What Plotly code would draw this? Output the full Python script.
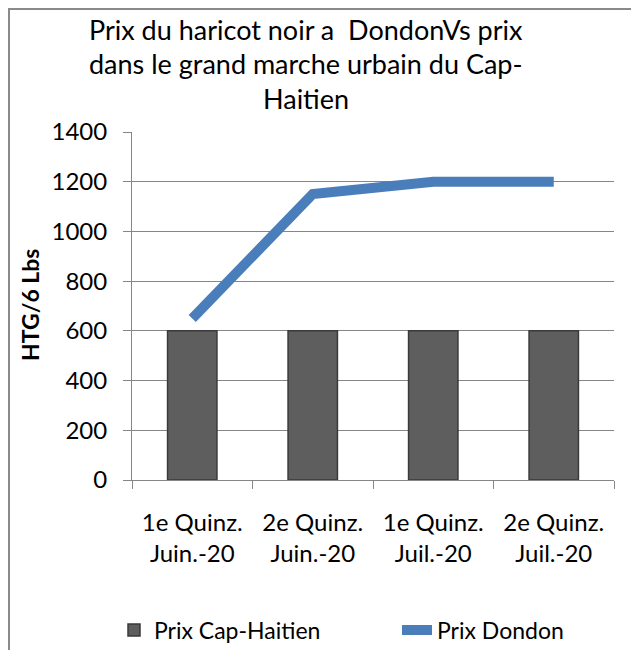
import plotly.graph_objects as go

categories = ["1e Quinz.<br>Juin.-20", "2e Quinz.<br>Juin.-20", "1e Quinz.<br>Juil.-20", "2e Quinz.<br>Juil.-20"]
prix_cap_haitien = [600, 600, 600, 600]
prix_dondon = [650, 1150, 1200, 1200]
title_lines = ["Prix du haricot noir a  DondonVs prix", "dans le grand marche urbain du Cap-", "Haitien"]
y_title = "HTG/6 Lbs"

OFF = 8  # page body margin
W, H = 639 - OFF, 668 - OFF
L, T = 132 - OFF, 132 - OFF
R = W - (614 - OFF)
B = H - (480 - OFF)
PW, PH = W - L - R, H - T - B

def px(x):  # reference pixel -> paper
    return (x - OFF - L) / PW

def py(y):
    return 1 + (T - (y - OFF)) / PH

FONT = "Lato"

fig = go.Figure()
fig.add_trace(go.Bar(
    x=categories, y=prix_cap_haitien, name="Prix Cap-Haitien",
    marker=dict(color="#5e5e5e", line=dict(color="#3a3a3a", width=1.5)),
    width=0.41, legend="legend",
))
fig.add_trace(go.Scatter(
    x=categories, y=prix_dondon, name="Prix Dondon", mode="lines",
    line=dict(color="#4a7ebb", width=10), legend="legend2",
))

annotations = []
for text, cy in zip(title_lines, [30, 64, 98]):
    annotations.append(dict(text=text, x=px(306), y=py(cy), xref="paper", yref="paper",
                            xanchor="center", yanchor="middle", showarrow=False,
                            font=dict(family=FONT, size=27, color="#000000")))
annotations.append(dict(text="<b>" + y_title + "</b>", x=px(30), y=py(305), xref="paper", yref="paper",
                        xanchor="center", yanchor="middle", showarrow=False, textangle=-90,
                        font=dict(family=FONT, size=23, color="#000000")))

shapes = [
    dict(type="line", xref="paper", yref="paper", x0=px(9), x1=px(9), y0=py(8), y1=py(700),
         line=dict(color="#8a8a8a", width=2)),
    dict(type="line", xref="paper", yref="paper", x0=px(8), x1=px(700), y0=py(9), y1=py(9),
         line=dict(color="#8a8a8a", width=2)),
]

legend_common = dict(orientation="h", yanchor="middle", xanchor="left",
                     font=dict(family=FONT, size=23, color="#000000"),
                     bgcolor="rgba(0,0,0,0)", borderwidth=0)

fig.update_layout(
    width=W, height=H,
    margin=dict(l=L, r=R, t=T, b=B, pad=0),
    paper_bgcolor="white", plot_bgcolor="white",
    font=dict(family=FONT, color="#000000"),
    showlegend=True,
    legend=dict(x=px(114), y=py(630), **legend_common),
    legend2=dict(x=px(397), y=py(630), **legend_common),
    annotations=annotations,
    shapes=shapes,
)
fig.update_xaxes(
    showline=True, linecolor="#868686", linewidth=1,
    ticks="outside", ticklen=8, tickcolor="#868686", tickson="boundaries",
    tickfont=dict(family=FONT, size=24, color="#000000"), ticklabelstandoff=21,
    showgrid=False, zeroline=False,
)
fig.update_yaxes(
    range=[0, 1400], dtick=200, tick0=0,
    showline=True, linecolor="#868686", linewidth=1,
    ticks="outside", ticklen=8, tickcolor="#868686",
    showgrid=True, gridcolor="#868686", gridwidth=1,
    tickfont=dict(family=FONT, size=24, color="#000000"), ticklabelstandoff=11,
    zeroline=False,
)

fig.write_html("out.html")
